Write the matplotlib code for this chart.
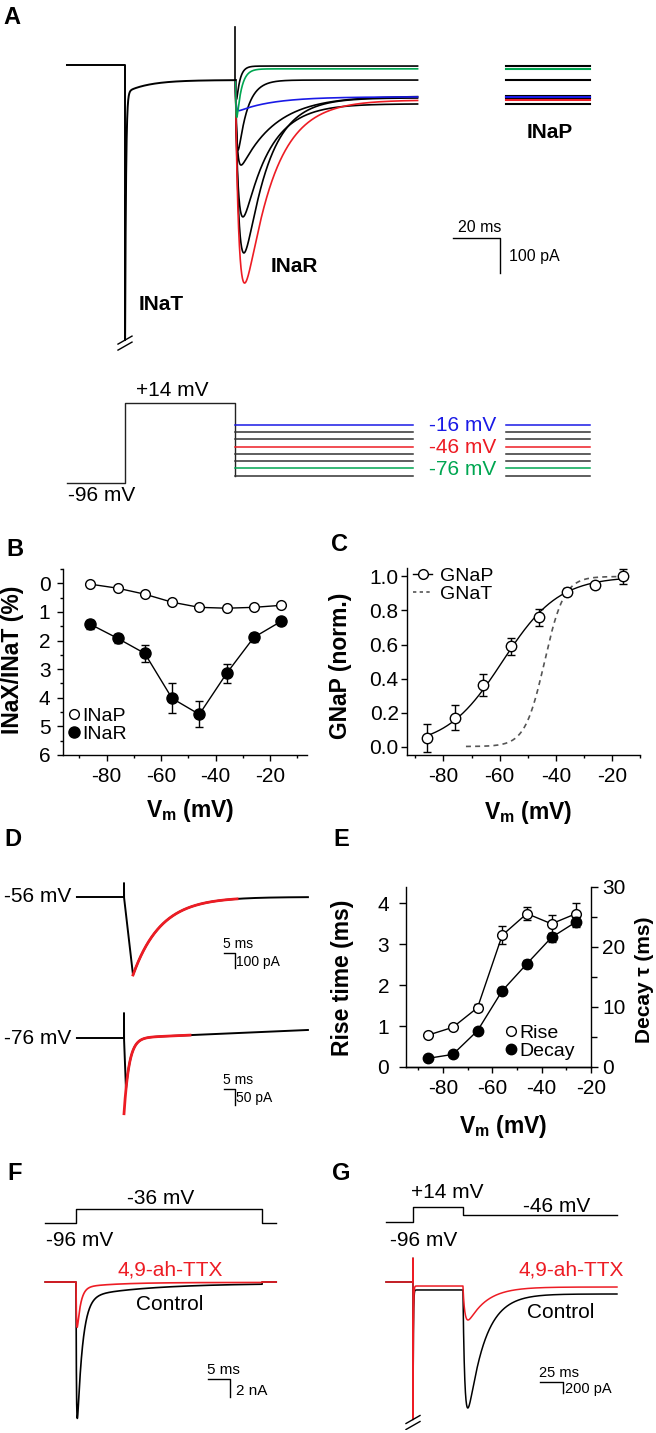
import numpy as np
import matplotlib
matplotlib.use("Agg")
import matplotlib.pyplot as plt
from matplotlib.lines import Line2D
from matplotlib.ticker import MultipleLocator

plt.rcParams['font.family'] = ['Liberation Sans', 'DejaVu Sans']
plt.rcParams['mathtext.fontset'] = 'custom'
plt.rcParams['mathtext.rm'] = 'Liberation Sans'
plt.rcParams['mathtext.bf'] = 'Liberation Sans:bold'
plt.rcParams['axes.unicode_minus'] = False
plt.rcParams['axes.linewidth'] = 1.0

W, H = 656, 1433
BLUE, RED, GREEN = '#1a1ae6', '#ed1c24', '#00a651'

# ---------------- values ----------------
# A: repolarising steps after a +14 mV step (currents in pA, times in ms)
a_levels = [-16, -26, -36, -46, -56, -66, -76, -86]
a_iss = [-91, -89, -111, -100, -94, -43, -11, -3]          # late level
a_inar = [-43, -197, -323, -523, -443, -200, -131, -83]     # resurgent peak
a_tau_rise = [0.1, 0.8, 1.5, 2.0, 2.0, 0.5, 0.3, 0.3]
a_tau_decay = [15, 15, 11, 12, 10, 4, 2, 1.5]
a_hold_mv, a_step_mv = -96, 14
a_step_ms, a_pre_ms, a_tail_ms, a_prot_tail_ms = 47, 24.7, 77.5, 75.5
a_inap_ms = [162, 198]
a_step_ss, a_step_slow, a_step_tau = -43, -36, 10
a_inat_shown, a_inat_tau = -786, 0.4
a_artifact = 109
a_scale = (20, 100)

# B: INaX / INaT (%)
vm_b = [-86, -76, -66, -56, -46, -36, -26, -16]
inap_pct = [0.03, 0.17, 0.38, 0.66, 0.84, 0.87, 0.84, 0.77]
inar_pct = [1.43, 1.92, 2.45, 4.02, 4.58, 3.15, 1.89, 1.33]
inar_err = [0.15, 0.15, 0.3, 0.52, 0.45, 0.33, 0.15, 0.1]

# C: normalised conductance
vm_c = [-86, -76, -66, -56, -46, -36, -26, -16]
gnap = [0.05, 0.17, 0.36, 0.59, 0.76, 0.91, 0.95, 1.0]
gnap_err = [0.08, 0.074, 0.065, 0.05, 0.05, 0.02, 0.02, 0.045]
gnap_vhalf, gnap_k = -59, 10
gnat_vhalf, gnat_k = -44, 3.5
gnat_range = (-72, -16)

# D: INaR decay fits
d_labels = ['-56 mV', '-76 mV']
d_peak = [-520, -160]
d_t_peak = [4.1, 0.9]
d_tau = [12.7, 2.3]
d_artifact = [93, 78]
d_drift = [0.0, 0.3]
d_fit_span = [(4.1, 51.4), (0.0, 30.0)]
d_span = (-21.4, 83.6)
d_scale = [(5, 100), (5, 50)]

# E: kinetics
vm_e = [-86, -76, -66, -56, -46, -36, -26]
rise_ms = [0.78, 0.97, 1.45, 3.22, 3.75, 3.5, 3.75]
rise_err = [0.05, 0.05, 0.08, 0.22, 0.15, 0.22, 0.26]
decay_ms = [1.45, 2.1, 6.05, 12.7, 17.2, 21.6, 24.2]
decay_err = [0.3, 0.3, 0.5, 0.6, 0.7, 0.8, 0.8]

# F: -36 mV step, control vs 4,9-ah-TTX (nA): fast, tau_fast, slow, tau_slow, steady
f_step_mv, f_hold_mv = -36, -96
f_step_ms, f_span = 42.3, (-7, 45.5)
f_names = ['Control', '4,9-ah-TTX']
f_params = [(19.0, 1.2, 1.6, 15.0, 0.15), (7.0, 0.8, 0.6, 8.0, 0.05)]
f_scale = (5, 2)

# G: +14 mV then -46 mV, control vs 4,9-ah-TTX (pA)
g_hold_mv, g_step_mv, g_test_mv = -96, 14, -46
g_step_ms, g_span = 54.3, (-29.3, 221.7)
g_inat_shown, g_artifact = -2500, 430
g_names = ['Control', '4,9-ah-TTX']
g_step_lvl = [-145, -73]
g_iss = [-218, -91]
g_inar = [-2073, -600]
g_tau_r = [2.5, 2.5]
g_tau_d = [18, 20]
g_scale = (25, 200)

a_colors = [BLUE, 'k', 'k', RED, 'k', 'k', GREEN, 'k']
g_colors = ['k', RED]

# ---------------- helpers ----------------
fig = plt.figure(figsize=(W / 100, H / 100), dpi=100)

LABEL_SIZE = 16.5
TICK_SIZE = 15


def px_axes(x0, y0, x1, y1):
    return fig.add_axes([x0 / W, 1 - y1 / H, (x1 - x0) / W, (y1 - y0) / H])


def trace_axes(box, t_px, px_ms, base_px, px_unit):
    x0, y0, x1, y1 = box
    ax = px_axes(*box)
    ax.set_xlim((x0 - t_px) / px_ms, (x1 - t_px) / px_ms)
    ax.set_ylim((base_px - y1) / px_unit, (base_px - y0) / px_unit)
    ax.axis('off')

    def at(x, y):
        return (x - t_px) / px_ms, (base_px - y) / px_unit

    def to_px(v):
        return base_px - v * px_unit
    return ax, at, to_px, (px_ms, px_unit)


def ptext(x, y, s, **kw):
    kw.setdefault('ha', 'center')
    kw.setdefault('va', 'center')
    fig.text(x / W, 1 - y / H, s, **kw)


def scale_bar(ax, origin, dt, dy):
    t, y = origin
    ax.plot([t, t + dt, t + dt], [y, y, y - dy], color='k', lw=1)


def break_marks(ax, t, i, scales):
    px_ms, px_unit = scales
    for dy in (0, 6):
        ax.plot([t - 7 / px_ms, t + 7 / px_ms],
                [i - (dy + 4) / px_unit, i - (dy - 4) / px_unit], color='k', lw=1)


def style_axes(ax):
    for s in ('top', 'right'):
        ax.spines[s].set_visible(False)
    ax.tick_params(which='both', direction='out', width=1, labelsize=TICK_SIZE, pad=5)
    ax.tick_params(which='major', length=4)
    ax.tick_params(which='minor', length=2.5)


def label_at(ax, which, text, x, y, size=LABEL_SIZE):
    if which == 'x':
        ax.set_xlabel(text, fontsize=size, weight='bold', va='center')
        ax.xaxis.set_label_coords(x / W, 1 - y / H, transform=fig.transFigure)
    else:
        ax.set_ylabel(text, fontsize=size, weight='bold', va='center', ha='center')
        ax.yaxis.set_label_coords(x / W, 1 - y / H, transform=fig.transFigure)


def legend_at(ax, handles, labels, x, y, **kw):
    ax.legend(handles, labels, loc='upper left', bbox_to_anchor=(x / W, 1 - y / H),
              bbox_transform=fig.transFigure, frameon=False, borderpad=0,
              borderaxespad=0, fontsize=14, labelspacing=0.05, **kw)


VM_LABEL = r'$\mathbf{V_m}$ (mV)'
open_c = dict(marker='o', mfc='w', mec='k', mew=1, color='k')
fill_c = dict(marker='o', mfc='k', mec='k', mew=1, color='k')

# ---------------- A ----------------
axA, atA, _, scA = trace_axes((60, 20, 600, 352), 125, 2.35, 65, 0.35)
t_step = np.linspace(0, a_step_ms, 3000)
i_step = (a_step_ss + a_step_slow * np.exp(-t_step / a_step_tau)
          + a_inat_shown * np.exp(-t_step / a_inat_tau))
i_step = np.maximum(i_step, a_inat_shown)
# holding + step part is common to all sweeps
axA.plot(np.concatenate([[-a_pre_ms, 0], t_step]), np.concatenate([[0, 0], i_step]),
         color='k', lw=1.4, zorder=3)
t_tail = np.linspace(0, a_tail_ms, 4000)
order = [k for k in range(8) if a_colors[k] == 'k'] + [k for k in range(8) if a_colors[k] != 'k']
for k in order:
    shape = (1 - np.exp(-t_tail / a_tau_rise[k])) * np.exp(-t_tail / a_tau_decay[k])
    i_tail = (a_iss[k] + (i_step[-1] - a_iss[k]) * np.exp(-t_tail / 0.4)
              + a_inar[k] * shape / shape.max())
    axA.plot(a_step_ms + t_tail, i_tail, color=a_colors[k], lw=1.2)
    axA.plot(a_inap_ms, [a_iss[k]] * 2, color=a_colors[k], lw=1.5)
# capacitive artifact at the end of the step
axA.plot([a_step_ms, a_step_ms], [i_step[-1], a_artifact], color='k', lw=1.2, zorder=4)
break_marks(axA, 0, a_inat_shown, scA)
scale_bar(axA, atA(453, 238), *a_scale)
ptext(480, 227, '%d ms' % a_scale[0], size=11.5)
ptext(509, 257, '%d pA' % a_scale[1], size=11.5, ha='left')
ptext(161, 304, 'INaT', size=15, weight='bold')
ptext(294, 266, 'INaR', size=15, weight='bold')
ptext(550, 133, 'INaP', size=15, weight='bold')

# voltage protocol
axP, atP, pxP, _ = trace_axes((60, 380, 600, 500), 125, 2.35, 413.2, 0.727)
axP.plot([-a_pre_ms, 0, 0, a_step_ms, a_step_ms],
         [a_hold_mv, a_hold_mv, a_step_mv, a_step_mv, min(a_levels)], color='#222', lw=1)
for v, c in zip(a_levels, a_colors):
    col = '#333' if c == 'k' else c
    axP.plot([a_step_ms, a_step_ms + a_prot_tail_ms], [v, v], color=col, lw=1.1)
    axP.plot(a_inap_ms, [v, v], color=col, lw=1.1)
    if c != 'k':
        ptext(463, pxP(v) + 1, '%d mV' % v, size=15, color=c)
ptext(172, 391, '+%d mV' % a_step_mv, size=15)
ptext(102, 495, '%d mV' % a_hold_mv, size=15)

ptext(12, 17, 'A', size=17, weight='bold')

# ---------------- B ----------------
axB = px_axes(63, 569, 307, 755)
style_axes(axB)
axB.plot(vm_b, inap_pct, lw=1, ms=7, **open_c, zorder=3)
axB.errorbar(vm_b, inar_pct, yerr=inar_err, fmt='none', ecolor='k', elinewidth=1, capsize=3)
axB.plot(vm_b, inar_pct, lw=1, ms=8, **fill_c, zorder=3)
axB.set_xlim(-96, -6.5)
axB.set_ylim(6, -0.5)
axB.set_xticks([-80, -60, -40, -20])
axB.xaxis.set_minor_locator(MultipleLocator(10))
axB.set_yticks(range(0, 7))
axB.yaxis.set_minor_locator(MultipleLocator(0.5))
label_at(axB, 'x', VM_LABEL, 190, 811)
label_at(axB, 'y', 'INaX/INaT (%)', 13, 660)
legend_at(axB, [Line2D([], [], ls='none', ms=7, **open_c), Line2D([], [], ls='none', ms=8, **fill_c)],
          ['INaP', 'INaR'], 68, 707, handlelength=0.6, handletextpad=0.15)
ptext(15, 549, 'B', size=17, weight='bold')

# ---------------- C ----------------
axC = px_axes(407, 568, 640, 755)
style_axes(axC)
axC.tick_params(axis='y', pad=2)
v_fit = np.linspace(vm_c[0], vm_c[-1], 200)
axC.plot(v_fit, 1 / (1 + np.exp((gnap_vhalf - v_fit) / gnap_k)), color='k', lw=1)
v_t = np.linspace(*gnat_range, 200)
axC.plot(v_t, 1 / (1 + np.exp((gnat_vhalf - v_t) / gnat_k)), color='#555', lw=1.2, ls=(0, (3, 2.5)))
axC.errorbar(vm_c, gnap, yerr=gnap_err, fmt='none', ecolor='k', elinewidth=1, capsize=3)
axC.plot(vm_c, gnap, ls='none', ms=7.5, **open_c, zorder=3)
axC.set_xlim(-93, -10)
axC.set_ylim(-0.05, 1.05)
axC.set_xticks([-80, -60, -40, -20])
axC.xaxis.set_minor_locator(MultipleLocator(10))
axC.set_yticks([0, 0.2, 0.4, 0.6, 0.8, 1.0])
axC.set_yticklabels(['0.0', '0.2', '0.4', '0.6', '0.8', '1.0'])
label_at(axC, 'x', VM_LABEL, 528, 812)
label_at(axC, 'y', 'GNaP (norm.)', 341, 666)
legend_at(axC, [Line2D([], [], lw=1, ms=7, **open_c),
                Line2D([], [], color='#555', lw=1.2, ls=(0, (2, 2)))],
          ['GNaP', 'GNaT'], 413, 567, handlelength=1.0, handletextpad=0.4)
ptext(339, 545, 'C', size=17, weight='bold')

# ---------------- D ----------------
d_boxes = [((70, 860, 320, 1000), 897, 0.15), ((70, 1005, 320, 1125), 1038, 0.32)]
d_bar_px = [(224, 953), (224, 1089)]
for k in range(2):
    box, base, pu = d_boxes[k]
    ax, at, _, _ = trace_axes(box, 124, 2.2, base, pu)
    t = np.linspace(0, d_span[1], 4000)
    fit = d_peak[k] * np.exp(-(t - d_t_peak[k]) / d_tau[k])
    i = np.where(t < d_t_peak[k], d_peak[k] * t / d_t_peak[k], fit) + d_drift[k] * t
    ax.plot(np.concatenate([[d_span[0], 0, 0], t]), np.concatenate([[0, 0, d_artifact[k]], i]),
            color='k', lw=1.4)
    tf = np.linspace(*d_fit_span[k], 400)
    ax.plot(tf, d_peak[k] * np.exp(-(tf - d_t_peak[k]) / d_tau[k]) + d_drift[k] * tf,
            color=RED, lw=2)
    scale_bar(ax, at(*d_bar_px[k]), *d_scale[k])
    bx, by = d_bar_px[k]
    ptext(bx - 1, by - 2, '%d ms' % d_scale[k][0], size=10, ha='left', va='bottom')
    ptext(bx + 12, by + 9, '%d pA' % d_scale[k][1], size=10, ha='left')
    ptext(71, base, d_labels[k], size=15, ha='right')
ptext(13, 840, 'D', size=17, weight='bold')

# ---------------- E ----------------
axE = px_axes(406, 887, 591, 1067)
style_axes(axE)
axE.tick_params(axis='y', pad=7, length=5)
axE2 = axE.twinx()
axE2.spines['top'].set_visible(False)
axE2.spines['left'].set_visible(False)
axE2.tick_params(which='both', direction='out', width=1, labelsize=TICK_SIZE, pad=3)
axE2.tick_params(which='major', length=5)
axE2.tick_params(which='minor', length=4)
axE.errorbar(vm_e, rise_ms, yerr=rise_err, fmt='none', ecolor='k', elinewidth=1, capsize=3)
axE.plot(vm_e, rise_ms, lw=1, ms=7, **open_c, zorder=3)
axE2.errorbar(vm_e, decay_ms, yerr=decay_err, fmt='none', ecolor='k', elinewidth=1, capsize=3)
axE2.plot(vm_e, decay_ms, lw=1, ms=7.5, **fill_c, zorder=3)
axE.set_xlim(-95, -20)
axE.set_ylim(0, 4.4)
axE2.set_ylim(0, 30)
axE.set_xticks([-80, -60, -40, -20])
axE.xaxis.set_minor_locator(MultipleLocator(10))
axE.set_yticks([0, 1, 2, 3, 4])
axE2.set_yticks([0, 10, 20, 30])
axE2.yaxis.set_minor_locator(MultipleLocator(5))
label_at(axE, 'x', VM_LABEL, 503, 1127)
label_at(axE, 'y', 'Rise time (ms)', 342, 978)
label_at(axE2, 'y', 'Decay τ (ms)', 644, 980, size=15)
legend_at(axE2, [Line2D([], [], ls='none', ms=7, **open_c), Line2D([], [], ls='none', ms=7.5, **fill_c)],
          ['Rise', 'Decay'], 505, 1024, handlelength=0.6, handletextpad=0.15)
ptext(341, 840, 'E', size=17, weight='bold')

# ---------------- F ----------------
axFp, _, _, _ = trace_axes((40, 1190, 290, 1235), 76, 4.4, 1200.6, 0.233)
axFp.plot([f_span[0], 0, 0, f_step_ms, f_step_ms, f_span[1]],
          [f_hold_mv, f_hold_mv, f_step_mv, f_step_mv, f_hold_mv, f_hold_mv], color='k', lw=1)
axF, atF, _, _ = trace_axes((40, 1255, 290, 1430), 76, 4.4, 1282, 9.0)
tF = np.linspace(0, f_step_ms, 4000)
for k, c in zip(range(2), ['k', RED]):
    fast, tf, slow, ts, ss = f_params[k]
    i = -(fast * np.exp(-tF / tf) + slow * np.exp(-tF / ts) + ss) * (1 - np.exp(-tF / 0.12))
    axF.plot(np.concatenate([[f_span[0]], tF, [f_step_ms, f_span[1]]]),
             np.concatenate([[0], i, [0, 0]]), color=c, lw=1.2)
scale_bar(axF, atF(208, 1379), *f_scale)
ptext(207, 1377, '%d ms' % f_scale[0], size=11, ha='left', va='bottom')
ptext(236, 1391, '%d nA' % f_scale[1], size=11, ha='left')
ptext(161, 1198, '%d mV' % f_step_mv, size=15)
ptext(80, 1240, '%d mV' % f_hold_mv, size=15)
ptext(170, 1270, f_names[1], size=15, color=RED)
ptext(170, 1304, f_names[0], size=15)
ptext(15, 1174, 'F', size=17, weight='bold')

# ---------------- G ----------------
axGp, _, _, _ = trace_axes((380, 1190, 625, 1235), 413, 0.92, 1208.9, 0.136)
axGp.plot([g_span[0], 0, 0, g_step_ms, g_step_ms, g_span[1]],
          [g_hold_mv, g_hold_mv, g_step_mv, g_step_mv, g_test_mv, g_test_mv], color='k', lw=1)
axG, atG, _, scG = trace_axes((380, 1250, 625, 1430), 413, 0.92, 1282, 0.055)
tGs = np.linspace(0, g_step_ms, 2000)
tGt = np.linspace(0, g_span[1] - g_step_ms, 4000)
for k in range(2):
    i_s = np.maximum(g_step_lvl[k] + g_inat_shown * np.exp(-tGs / 0.4), g_inat_shown)
    shape = (1 - np.exp(-tGt / g_tau_r[k])) * np.exp(-tGt / g_tau_d[k])
    i_t = (g_iss[k] + (g_step_lvl[k] - g_iss[k]) * np.exp(-tGt / 0.5)
           + g_inar[k] * shape / shape.max())
    axG.plot(np.concatenate([[g_span[0], 0, 0], tGs, g_step_ms + tGt]),
             np.concatenate([[0, 0, g_artifact], i_s, i_t]), color=g_colors[k], lw=1.1)
break_marks(axG, 0, g_inat_shown, scG)
scale_bar(axG, atG(540, 1382), *g_scale)
ptext(539, 1380, '%d ms' % g_scale[0], size=10.5, ha='left', va='bottom')
ptext(565, 1389, '%d pA' % g_scale[1], size=10.5, ha='left')
ptext(447, 1192, '+%d mV' % g_step_mv, size=15)
ptext(557, 1207, '%d mV' % g_test_mv, size=15)
ptext(424, 1240, '%d mV' % g_hold_mv, size=15)
ptext(571, 1270, g_names[1], size=15, color=RED)
ptext(561, 1313, g_names[0], size=15)
ptext(341, 1174, 'G', size=17, weight='bold')

fig.savefig('out.png', dpi=100)
